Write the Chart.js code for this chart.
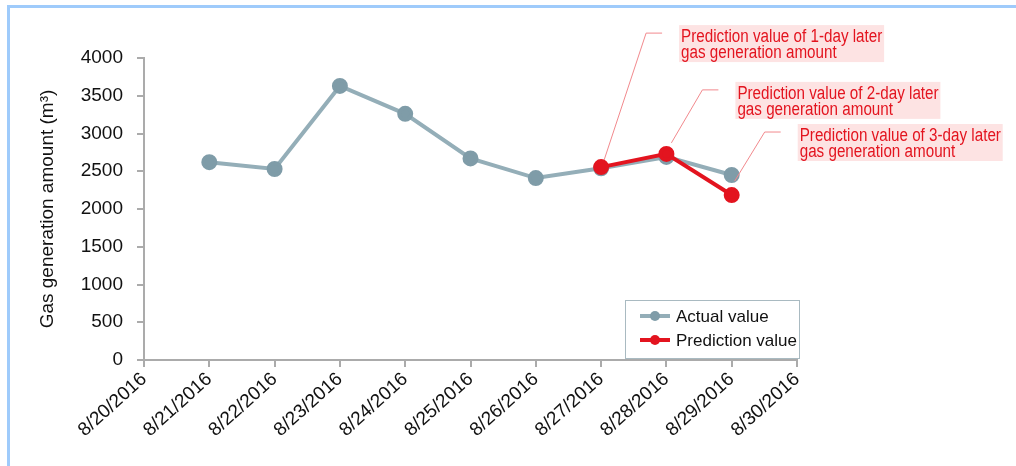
<!DOCTYPE html>
<html>
<head>
<meta charset="utf-8">
<script src="https://cdn.jsdelivr.net/npm/chart.js@4.4.1/dist/chart.umd.min.js"></script>
<style>
  html, body { margin: 0; padding: 0; background: #fff; }
  #wrap { width: 1016px; height: 466px; position: relative; }
</style>
</head>
<body>
<div id="wrap"><canvas id="gasChart"></canvas></div>
<script>
// dates on the x axis
var dates = ['8/20/2016', '8/21/2016', '8/22/2016', '8/23/2016', '8/24/2016', '8/25/2016',
             '8/26/2016', '8/27/2016', '8/28/2016', '8/29/2016', '8/30/2016'];

// measured gas generation (m3)
var actualValues = [null, 2620, 2530, 3630, 3260, 2670, 2410, 2540, 2690, 2450, null];

// predicted values for 1, 2, 3 days later
var predictionValues = [null, null, null, null, null, null, null, 2555, 2730, 2185, null];

var yTicks = [0, 500, 1000, 1500, 2000, 2500, 3000, 3500, 4000];

var notes = [
    ['Prediction value of 1-day later', 'gas generation amount'],
    ['Prediction value of 2-day later', 'gas generation amount'],
    ['Prediction value of 3-day later', 'gas generation amount']
];

var grayLine = '#94aeb8';
var grayDot = '#7f9ca8';
var red = '#e3141f';
var axisGray = '#ababab';
var fontFam = '"Liberation Sans", Arial, sans-serif';

// white background + the blue frame on top and left
var framePlugin = {
    id: 'frame',
    beforeDraw(chart) {
        var ctx = chart.ctx;
        ctx.save();
        ctx.fillStyle = '#fff';
        ctx.fillRect(0, 0, chart.width, chart.height);
        ctx.fillStyle = '#9fcbfb';
        ctx.fillRect(7, 5, chart.width - 7, 3);
        ctx.fillRect(7, 5, 3, chart.height - 5);
        ctx.restore();
    }
};

// callout boxes pointing at the prediction points
var calloutPlugin = {
    id: 'callouts',
    afterDatasetsDraw(chart) {
        var ctx = chart.ctx;
        // which dataset/point each callout hangs off, plus offsets for the leader line
        var anchors = [
            { ds: 1, i: 7, sx: 3, sy: -7, ex: 45, ey: -134 },
            { ds: 1, i: 8, sx: 5, sy: -11, ex: 36, ey: -64 },
            { ds: 0, i: 9, sx: 3, sy: 6, ex: 33, ey: -43 }
        ];
        ctx.save();
        anchors.forEach((a, k) => {
            var p = chart.getDatasetMeta(a.ds).data[a.i];
            var ex = p.x + a.ex, ey = p.y + a.ey;
            ctx.strokeStyle = '#f2898d';
            ctx.lineWidth = 1;
            ctx.beginPath();
            ctx.moveTo(p.x + a.sx, p.y + a.sy);
            ctx.lineTo(ex, ey);
            ctx.lineTo(ex + 16, ey);
            ctx.stroke();

            var bx = ex + 33, by = ey - 8;
            ctx.fillStyle = '#fde3e3';
            ctx.fillRect(bx, by, 205, 37);
            ctx.fillStyle = red;
            ctx.font = '18px ' + fontFam;
            ctx.textBaseline = 'alphabetic';
            ctx.save();
            ctx.translate(bx + 2, by);
            ctx.scale(0.845, 1);
            ctx.fillText(notes[k][0], 0, 17);
            ctx.fillText(notes[k][1], 0, 33);
            ctx.restore();
        });
        ctx.restore();
    }
};

// legend box drawn inside the plot area
var legendBoxPlugin = {
    id: 'legendBox',
    afterDraw(chart) {
        var ctx = chart.ctx;
        var x = 625, y = 300, w = 174, h = 58;
        var order = [0, 1];
        ctx.save();
        ctx.fillStyle = '#fff';
        ctx.fillRect(x, y, w, h);
        ctx.strokeStyle = '#a9bac1';
        ctx.lineWidth = 1;
        ctx.strokeRect(x + 0.5, y + 0.5, w, h);
        order.forEach((d, k) => {
            var ds = chart.data.datasets[d];
            var ly = y + 16 + k * 24;
            ctx.strokeStyle = ds.borderColor;
            ctx.lineWidth = 4;
            ctx.beginPath();
            ctx.moveTo(x + 15, ly);
            ctx.lineTo(x + 45, ly);
            ctx.stroke();
            ctx.fillStyle = ds.pointBackgroundColor;
            ctx.beginPath();
            ctx.arc(x + 30, ly, 5, 0, Math.PI * 2);
            ctx.fill();
            ctx.fillStyle = '#111';
            ctx.font = '17px ' + fontFam;
            ctx.textBaseline = 'middle';
            ctx.fillText(ds.label, x + 51, ly + 1);
        });
        ctx.restore();
    }
};

var chart = new Chart(document.getElementById('gasChart'), {
    type: 'line',
    data: {
        labels: dates,
        datasets: [
            {
                label: 'Actual value',
                data: actualValues,
                order: 2,
                borderColor: grayLine,
                backgroundColor: grayDot,
                pointBackgroundColor: grayDot,
                pointBorderColor: grayDot,
                borderWidth: 4,
                pointRadius: 6,
                tension: 0
            },
            {
                label: 'Prediction value',
                data: predictionValues,
                order: 1,
                borderColor: red,
                backgroundColor: red,
                pointBackgroundColor: red,
                pointBorderColor: red,
                borderWidth: 4,
                pointRadius: 6,
                tension: 0
            }
        ]
    },
    options: {
        responsive: true,
        maintainAspectRatio: false,
        animation: false,
        layout: { padding: { left: 36, top: 58, right: 219, bottom: 0 } },
        scales: {
            x: {
                offset: false,
                grid: { display: true, drawOnChartArea: false, drawTicks: true, tickLength: 7, color: axisGray, lineWidth: 2 },
                border: { color: axisGray, width: 2 },
                ticks: {
                    color: '#111',
                    font: { size: 19, family: fontFam },
                    minRotation: 42,
                    maxRotation: 42,
                    autoSkip: false,
                    padding: 1
                },
                afterFit(scale) { scale.height = 106; }
            },
            y: {
                min: 0,
                max: 4000,
                afterBuildTicks(scale) { scale.ticks = yTicks.map(v => ({ value: v })); },
                grid: { display: true, drawOnChartArea: false, drawTicks: true, tickLength: 7, color: axisGray, lineWidth: 2 },
                border: { color: axisGray, width: 2 },
                ticks: {
                    color: '#111',
                    font: { size: 19, family: fontFam },
                    padding: 14,
                    callback: v => String(v)
                },
                title: {
                    display: true,
                    text: 'Gas generation amount (m³)',
                    color: '#111',
                    font: { size: 19, family: fontFam },
                    padding: { top: 0, bottom: 4 }
                },
                afterFit(scale) { scale.width = 108; }
            }
        },
        plugins: {
            legend: { display: false },
            tooltip: { enabled: false }
        }
    },
    plugins: [framePlugin, calloutPlugin, legendBoxPlugin]
});
</script>
</body>
</html>
